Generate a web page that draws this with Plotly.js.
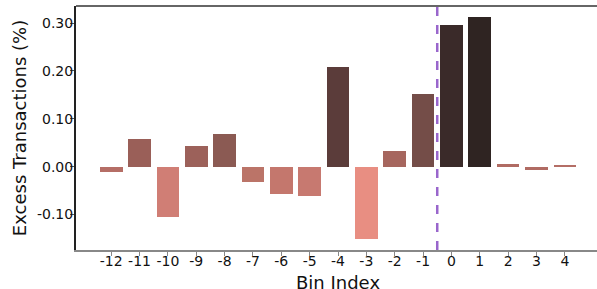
<!DOCTYPE html>
<html>
<head>
<meta charset="utf-8">
<script src="https://cdn.plot.ly/plotly-3.0.1.min.js"></script>
<style>
html,body{margin:0;padding:0;overflow:hidden;background:#fff;width:597px;height:289px;}
#chart{width:620px;height:289px;}
</style>
</head>
<body>
<div id="chart"></div>
<script>
const bins = [-12,-11,-10,-9,-8,-7,-6,-5,-4,-3,-2,-1,0,1,2,3,4];
const excess = [-0.011,0.058,-0.105,0.043,0.068,-0.032,-0.057,-0.061,0.208,-0.151,0.033,0.152,0.296,0.312,0.006,-0.006,0.002];
const barColors = ["#b56e66","#9a5f58","#d07e75","#9c615a","#8b5a53","#bb7468","#c4776d","#c77970","#5b3c3a","#e88e82","#a6665e","#744d48","#3a2a29","#2f2422","#b06b63","#b06b63","#b46e66"];
const xTickVals = [-12,-11,-10,-9,-8,-7,-6,-5,-4,-3,-2,-1,0,1,2,3,4];
const xTickText = ["-12","-11","-10","-9","-8","-7","-6","-5","-4","-3","-2","-1","0","1","2","3","4"];
const yTickVals = [-0.1,0,0.1,0.2,0.3];
const yTickText = ["-0.10","0.00","0.10","0.20","0.30"];
const eventLine = -0.5;
const xTitle = "Bin Index";
const yTitle = "Excess Transactions (%)";

const font = "DejaVu Sans, sans-serif";
const xRange = [-13.24, 5.24];
const yRange = [-0.174, 0.3357];
Plotly.newPlot("chart", [{
  type: "bar",
  x: bins,
  y: excess,
  width: 0.8,
  marker: {color: barColors, line: {width: 0}},
  hoverinfo: "x+y"
}, {
  type: "scatter", mode: "markers",
  x: bins, y: excess, xaxis: "x2", yaxis: "y2",
  marker: {opacity: 0, size: 1},
  hoverinfo: "skip", showlegend: false
}], {
  width: 620, height: 289,
  margin: {l: 76, r: 20, t: 6, b: 39},
  paper_bgcolor: "#fff", plot_bgcolor: "#fff",
  showlegend: false,
  bargap: 0,
  font: {family: font, color: "#111"},
  xaxis: {
    range: xRange,
    tickvals: xTickVals, showticklabels: false,
    ticks: "outside", ticklen: 4, tickcolor: "#888", tickwidth: 1,
    showgrid: false, zeroline: false,
    showline: true, linecolor: "#888", linewidth: 2
  },
  xaxis2: {
    range: xRange, overlaying: "x", anchor: "free", position: 0.0082,
    tickvals: xTickVals, ticktext: xTickText,
    tickfont: {size: 14, family: font, color: "#111"},
    ticks: "outside", ticklen: 0, tickcolor: "rgba(0,0,0,0)",
    showline: false, showgrid: false, zeroline: false
  },
  yaxis: {
    range: yRange,
    tickvals: yTickVals, showticklabels: false,
    ticks: "outside", ticklen: 4, tickcolor: "#555", tickwidth: 1,
    showgrid: false, zeroline: false,
    showline: true, linecolor: "#222", linewidth: 1.5
  },
  yaxis2: {
    range: yRange, overlaying: "y", anchor: "free", position: 0,
    tickvals: yTickVals, ticktext: yTickText,
    tickfont: {size: 14, family: font, color: "#111"},
    ticks: "outside", ticklen: 0, tickcolor: "rgba(0,0,0,0)",
    showline: false, showgrid: false, zeroline: false,
    title: {text: yTitle, font: {size: 18, family: font, color: "#111"}, standoff: 4}
  },
  annotations: [
    {text: xTitle, xref: "paper", yref: "paper", x: 0.5, y: -0.133, xanchor: "center", yanchor: "middle", showarrow: false, font: {size: 18, family: font, color: "#111"}}
  ],
  shapes: [
    {type: "line", xref: "paper", yref: "paper", x0: 0, x1: 1, y0: 1, y1: 1, line: {color: "#333", width: 1.5}},
    {type: "line", xref: "x", yref: "paper", x0: eventLine, x1: eventLine, y0: 0, y1: 1, line: {color: "#9966cc", width: 2.5, dash: "dash"}}
  ]
}, {displayModeBar: false});
</script>
</body>
</html>
